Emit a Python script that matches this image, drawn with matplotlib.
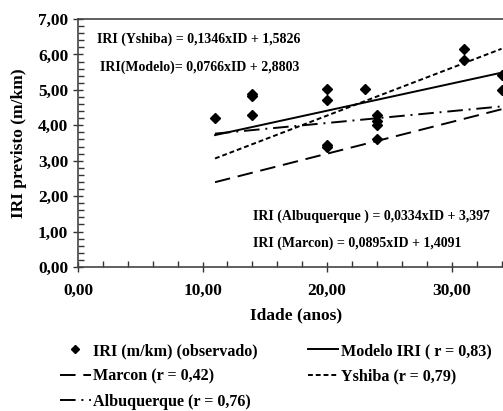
import numpy as np
import matplotlib.pyplot as plt
from matplotlib.ticker import MultipleLocator, FuncFormatter

# Observed IRI values (m/km) vs age (years)
idade_obs = [11, 14, 14, 14, 20, 20, 20, 20, 23, 24, 24, 24, 24, 31, 31, 34, 34]
iri_obs = [4.20, 4.87, 4.82, 4.30, 5.02, 4.72, 3.43, 3.38, 5.03, 4.30, 4.12, 4.00, 3.60,
           6.15, 5.85, 5.42, 5.00]

# Regression models IRI = a*ID + b
idade_fit = [11, 34]
modelos = {
    'Modelo': (0.0766, 2.8803),
    'Marcon': (0.0895, 1.4091),
    'Yshiba': (0.1346, 1.5826),
    'Albuquerque': (0.0334, 3.397),
}

plt.rcParams['font.family'] = ['Liberation Serif', 'DejaVu Serif']
plt.rcParams['font.weight'] = 'bold'

fig = plt.figure(figsize=(5.03, 4.11), dpi=100)
# x axis is cut at the right edge, as in the original
ax = fig.add_axes([78 / 503, 144 / 411, 436 / 503, 248 / 411])

x_fit = np.array(idade_fit)
lw = 1.4
h_obs, = ax.plot(idade_obs, iri_obs, linestyle='none', marker='D', markersize=5.5,
                 color='black', label='IRI (m/km) (observado)', clip_on=False)
a, b = modelos['Modelo']
h_mod, = ax.plot(x_fit, a * x_fit + b, color='black', linewidth=lw,
                 label='Modelo IRI ( r = 0,83)')
a, b = modelos['Marcon']
h_mar, = ax.plot(x_fit, a * x_fit + b, color='black', linewidth=lw,
                 dashes=(8, 4), label='Marcon (r = 0,42)')
a, b = modelos['Yshiba']
h_ysh, = ax.plot(x_fit, a * x_fit + b, color='black', linewidth=lw,
                 dashes=(2.5, 1.5), label='Yshiba (r = 0,79)')
a, b = modelos['Albuquerque']
h_alb, = ax.plot(x_fit, a * x_fit + b, color='black', linewidth=lw,
                 dashes=(8, 3, 1, 3), label='Albuquerque (r = 0,76)')

ax.set_xlim(0, 35)
ax.set_ylim(0, 7)
ax.xaxis.set_major_locator(MultipleLocator(10))
ax.xaxis.set_minor_locator(MultipleLocator(2))
ax.yaxis.set_major_locator(MultipleLocator(1))
ax.yaxis.set_minor_locator(MultipleLocator(0.2))
fmt = FuncFormatter(lambda v, p: f'{v:.2f}'.replace('.', ','))
ax.xaxis.set_major_formatter(fmt)
ax.yaxis.set_major_formatter(fmt)
ax.tick_params(which='major', direction='inout', length=7, width=1, labelsize=12.5,
               colors='#333333', labelcolor='black')
ax.tick_params(which='minor', direction='in', length=4, width=1, colors='#333333')
ax.xaxis.set_tick_params(pad=8)
for s in ['left', 'bottom', 'top', 'right']:
    ax.spines[s].set_color('#444444')
    ax.spines[s].set_linewidth(1.2)

ax.set_xlabel('Idade (anos)', fontsize=12.5, fontweight='bold', labelpad=6)
ax.set_ylabel('IRI previsto (m/km)', fontsize=12.5, fontweight='bold', labelpad=8)

eq_kw = dict(fontsize=10, fontweight='bold', transform=fig.transFigure, va='center')
fig.text(97 / 503, 1 - 39 / 411, 'IRI (Yshiba) = 0,1346xID + 1,5826', **eq_kw)
fig.text(100 / 503, 1 - 67 / 411, 'IRI(Modelo)= 0,0766xID + 2,8803', **eq_kw)
fig.text(253 / 503, 1 - 216 / 411, 'IRI (Albuquerque ) = 0,0334xID + 3,397', **eq_kw)
fig.text(253 / 503, 1 - 243 / 411, 'IRI (Marcon) = 0,0895xID + 1,4091', **eq_kw)

handles = [h_obs, h_mar, h_alb, h_mod, h_ysh]
fig.legend(handles, [h.get_label() for h in handles], ncol=2, frameon=False,
           loc='upper left', bbox_to_anchor=(60 / 503, 1 - 343 / 411),
           prop={'family': 'Liberation Serif', 'weight': 'bold', 'size': 11.6},
           handlelength=1.9, handletextpad=0.15, columnspacing=3.1, labelspacing=0.58,
           markerscale=0.75, borderaxespad=0, borderpad=0)

fig.savefig('out.png', dpi=100)
